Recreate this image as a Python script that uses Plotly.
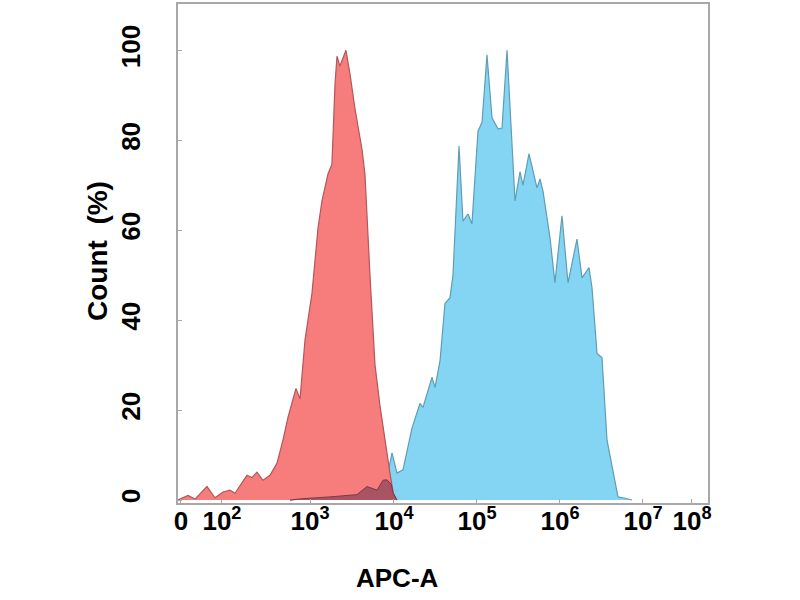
import plotly.graph_objects as go

# APC-A fluorescence (decade units on the display axis) and Count (%)
red_x = [1.376, 1.497, 1.582, 1.727, 1.824, 1.921, 2.006, 2.067, 2.212, 2.273, 2.333, 2.406,
         2.491, 2.576, 2.648, 2.709, 2.806, 2.855, 2.915, 3.000, 3.073, 3.121, 3.194, 3.242,
         3.279, 3.303, 3.339, 3.412, 3.461, 3.521, 3.606, 3.642, 3.703, 3.764, 3.824, 3.885,
         3.945, 3.985, 4.030]
red_y = [0.0, 1.0, 0.2, 3.0, 0.5, 1.8, 2.2, 1.5, 5.5, 5.0, 6.2, 4.4,
         5.5, 8.2, 13.3, 18.4, 24.8, 22.5, 35.5, 46.0, 60.5, 66.5, 72.5, 74.7,
         92.5, 98.7, 96.5, 100.0, 94.7, 87.0, 78.0, 72.5, 50.0, 30.0, 21.0, 13.0,
         6.0, 1.5, 0.0]

blue_x = [2.733, 2.891, 3.218, 3.461, 3.545, 3.667, 3.788, 3.861, 3.909, 3.970, 4.030, 4.103,
          4.212, 4.309, 4.345, 4.455, 4.491, 4.552, 4.612, 4.673, 4.709, 4.782, 4.830, 4.891,
          4.939, 5.012, 5.061, 5.121, 5.182, 5.255, 5.303, 5.364, 5.424, 5.461, 5.521, 5.558,
          5.630, 5.679, 5.727, 5.764, 5.800, 5.885, 5.945, 6.030, 6.103, 6.212, 6.273, 6.358,
          6.394, 6.455, 6.515, 6.576, 6.636, 6.709, 6.794, 6.879]
blue_y = [0.0, 0.3, 0.7, 1.0, 1.2, 3.0, 2.2, 4.4, 5.0, 10.5, 6.0, 6.7,
          16.0, 21.5, 20.6, 27.3, 25.0, 31.0, 43.7, 45.0, 50.0, 78.7, 62.0, 63.6,
          61.4, 82.0, 84.0, 99.0, 85.0, 82.5, 82.7, 100.0, 80.0, 66.5, 73.0, 70.0,
          77.0, 73.0, 69.4, 71.4, 68.7, 58.3, 48.3, 63.2, 48.3, 58.0, 49.4, 51.7,
          47.2, 32.6, 31.7, 13.3, 7.3, 0.7, 0.4, 0.0]

overlap_x = [2.733, 2.891, 3.218, 3.461, 3.545, 3.667, 3.788, 3.861, 3.909, 3.960, 3.985, 4.030]
overlap_y = [0.0, 0.3, 0.7, 1.0, 1.2, 3.0, 2.2, 4.4, 4.5, 3.5, 1.5, 0.0]

tick_pos = [1.412, 1.909, 2.976, 3.994, 5.0, 6.006, 7.012, 7.606]
tick_text = ["0", "10<sup>2</sup>", "10<sup>3</sup>", "10<sup>4</sup>", "10<sup>5</sup>",
             "10<sup>6</sup>", "10<sup>7</sup>", "10<sup>8</sup>"]
y_ticks = [0, 20, 40, 60, 80, 100]

fig = go.Figure()
fig.add_trace(go.Scatter(x=blue_x, y=blue_y, mode="lines", fill="tozeroy",
                         fillcolor="#84D5F3", line=dict(color="#5E9DB5", width=1.2),
                         hoverinfo="skip", showlegend=False))
fig.add_trace(go.Scatter(x=red_x, y=red_y, mode="lines", fill="tozeroy",
                         fillcolor="#F77C7C", line=dict(color="#B4565A", width=1.2),
                         hoverinfo="skip", showlegend=False))
fig.add_trace(go.Scatter(x=overlap_x, y=overlap_y, mode="lines", fill="tozeroy",
                         fillcolor="#A85463", line=dict(color="#7A3A44", width=1),
                         hoverinfo="skip", showlegend=False))

font_family = "Liberation Sans, Arial, sans-serif"
fig.update_layout(
    width=800, height=600,
    margin=dict(l=178, r=92, t=2, b=97),
    paper_bgcolor="white", plot_bgcolor="white",
    font=dict(family=font_family, color="black"),
    xaxis=dict(range=[1.376, 7.8], tickvals=tick_pos, ticktext=tick_text,
               tickfont=dict(size=26, family=font_family, weight="bold"),
               showgrid=False, zeroline=False, showline=True, linecolor="#A8A8A8",
               linewidth=1.5, mirror=True, ticks="inside", ticklen=4, tickcolor="#A8A8A8",
               ticklabelstandoff=-6),
    yaxis=dict(range=[-0.66, 110.3], tickvals=y_ticks,
               tickfont=dict(size=26, family=font_family, weight="bold"), tickangle=-90,
               showgrid=False, zeroline=False, showline=True, linecolor="#A8A8A8",
               linewidth=1.5, mirror=True, ticks="inside", ticklen=4, tickcolor="#A8A8A8",
               ticklabelstandoff=26),
    annotations=[
        dict(text="<b>APC-A</b>", xref="paper", yref="paper", x=0.415, y=-0.1497,
             xanchor="center", yanchor="middle", showarrow=False,
             font=dict(size=26, family=font_family, color="black")),
        dict(text="<b>Count&nbsp;&nbsp;(%)</b>", xref="paper", yref="paper", x=-0.1528,
             y=0.505, xanchor="center", yanchor="middle", textangle=-90, showarrow=False,
             font=dict(size=28, family=font_family, color="black")),
    ],
)
fig.write_html("out.html", config={"displayModeBar": False},
               post_script="document.body.style.margin='0';")
